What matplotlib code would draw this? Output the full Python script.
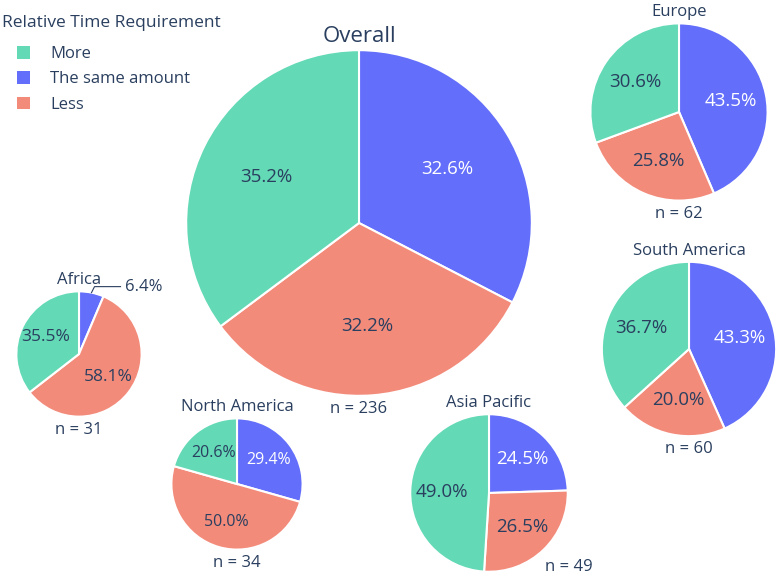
import numpy as np
import matplotlib
matplotlib.use("Agg")
import matplotlib.pyplot as plt
from matplotlib.patches import Patch

plt.rcParams["font.family"] = ["Open Sans", "DejaVu Sans"]

# -----------------------------
# data
# -----------------------------
regions = ["Overall", "Europe", "South America", "Africa", "North America", "Asia Pacific"]
n_resp = [236, 62, 60, 31, 34, 49]
pct_more = [35.2, 30.6, 36.7, 35.5, 20.6, 49.0]
pct_same = [32.6, 43.5, 43.3, 6.4, 29.4, 24.5]
pct_less = [32.2, 25.8, 20.0, 58.1, 50.0, 26.5]

categories = ["More", "The same amount", "Less"]
legend_title = "Relative Time Requirement"

# -----------------------------
# layout (pixel coords, top origin)
# -----------------------------
W, H = 780, 575
centers = {
    "Overall": (359, 223),
    "Europe": (679, 112),
    "South America": (689, 349),
    "Africa": (79, 354),
    "North America": (237, 484),
    "Asia Pacific": (489, 493),
}
title_size = {"Overall": 16}
pct_size = {"Africa": 12.5, "North America": 11.5}
# shift of "n = .." label (dx, dy), dy down in pixels
n_offset = {"Asia Pacific": (80, -18)}
k = 11.25  # radius per sqrt(n)

c_more = "#63D9B5"
c_same = "#636EFA"
c_less = "#F38B7B"
txt = "#2A3F5F"


def Y(y):
    return H - y


fig = plt.figure(figsize=(7.8, 5.75), dpi=100)
ax = fig.add_axes([0, 0, 1, 1])

for i, reg in enumerate(regions):
    vals = [pct_same[i], pct_less[i], pct_more[i]]
    n = n_resp[i]
    r = k * np.sqrt(n)
    cx, cy = centers[reg]
    fs = pct_size.get(reg, 13.5)

    wedges, texts = ax.pie(
        vals,
        radius=r,
        center=(cx, Y(cy)),
        startangle=90,
        counterclock=False,
        colors=[c_same, c_less, c_more],
        wedgeprops=dict(edgecolor="white", linewidth=1.5),
    )

    for j, w in enumerate(wedges):
        ang = np.deg2rad((w.theta1 + w.theta2) / 2)
        label = f"{vals[j]:.1f}%"
        if vals[j] < 10:
            # small slice -> label outside with leader line
            x0 = cx + r * np.cos(ang)
            y0 = Y(cy) + r * np.sin(ang)
            x1, y1 = x0 + 3, y0 + 6
            x2 = x1 + 26
            ax.plot([x0, x1, x2], [y0, y1, y1], color=txt, linewidth=0.8)
            ax.text(x2 + 4, y1, label, ha="left", va="center", color=txt, fontsize=12)
        else:
            ax.text(cx + 0.6 * r * np.cos(ang), Y(cy) + 0.6 * r * np.sin(ang), label,
                    ha="center", va="center", fontsize=fs,
                    color="white" if j == 0 else txt)

    # title
    ax.text(cx, Y(cy) + r + 3, reg, ha="center", va="bottom", color=txt,
            fontsize=title_size.get(reg, 12))

    # n label
    dx, dy = n_offset.get(reg, (0, 0))
    ax.text(cx + dx, Y(cy) - r - 5 - dy, f"n = {n}", ha="center", va="top",
            color=txt, fontsize=12)

# -----------------------------
# legend
# -----------------------------
ax.text(2, Y(23), legend_title, ha="left", va="center", color=txt, fontsize=12.5)
handles = [Patch(facecolor=c) for c in [c_more, c_same, c_less]]
leg = ax.legend(
    handles, categories,
    loc="upper left",
    bbox_to_anchor=(17 / W, 1 - 46 / H),
    frameon=False,
    borderaxespad=0,
    borderpad=0,
    handlelength=0.8,
    handleheight=0.8,
    handletextpad=1.2,
    labelspacing=0.55,
    fontsize=12,
)
for t in leg.get_texts():
    t.set_color(txt)

ax.set_xlim(0, W)
ax.set_ylim(0, H)
ax.set_aspect("equal")
ax.axis("off")

fig.savefig("out.png", dpi=100, facecolor="white")
